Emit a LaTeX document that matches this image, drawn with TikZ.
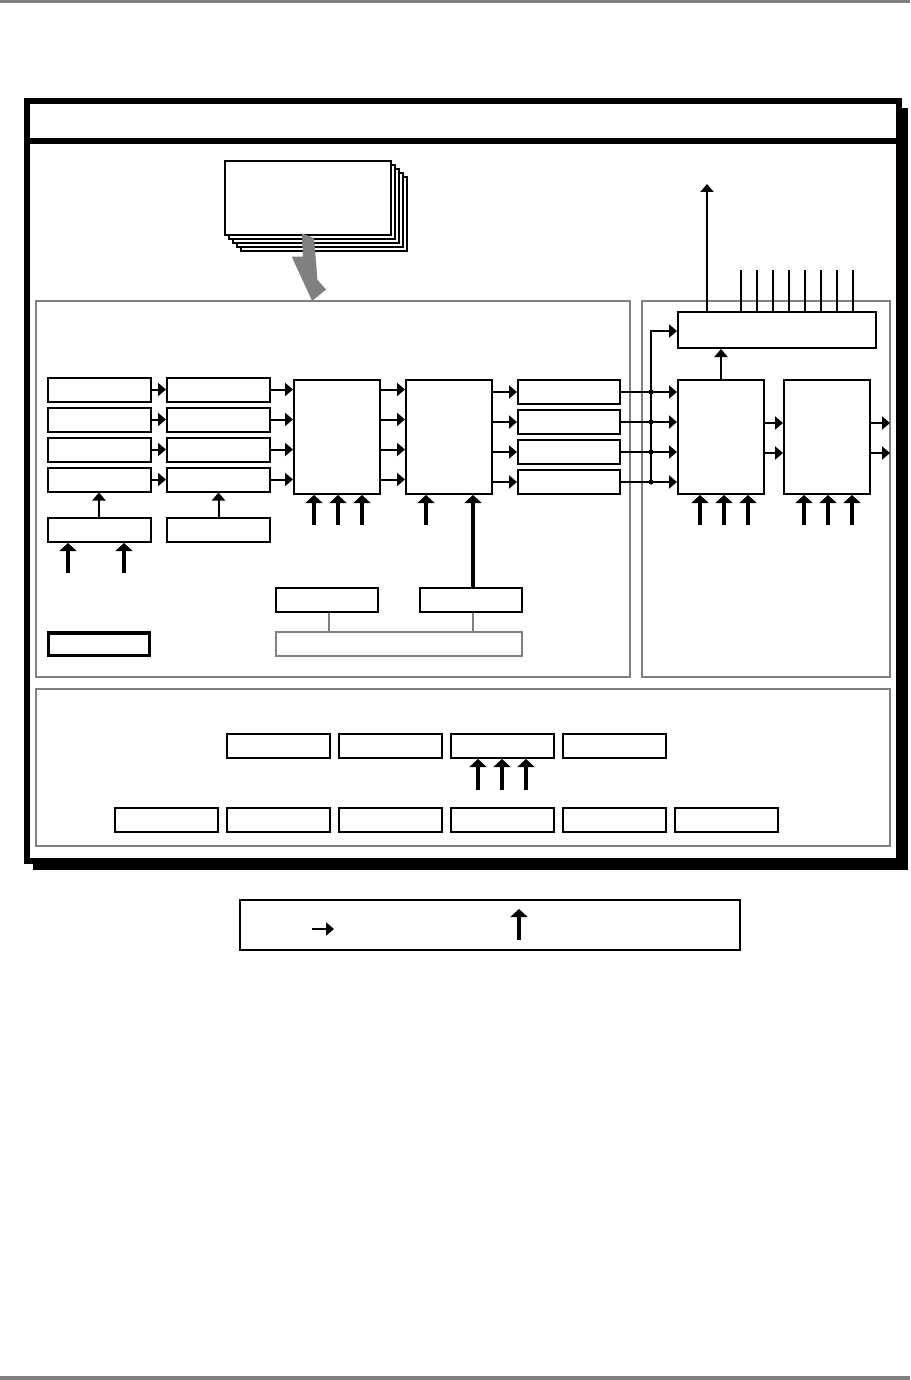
\documentclass[tikz,border=0pt]{standalone}
\usetikzlibrary{arrows.meta}
\definecolor{pgray}{RGB}{128,128,128}
\begin{document}
\begin{tikzpicture}[x=1pt,y=-1pt,line cap=butt,
  box/.style={draw, line width=2pt, fill=white, inner sep=0pt, minimum width=103pt, minimum height=24pt},
  tall/.style={box, minimum width=86pt, minimum height=114pt},
  panel/.style={draw=pgray, line width=2pt, inner sep=0pt},
  graybox/.style={draw=pgray, line width=2pt, fill=white, inner sep=0pt},
  doc/.style={draw, line width=2pt, fill=white, inner sep=0pt, minimum width=166pt, minimum height=74pt},
  tarrow/.style={line width=2pt, -{Triangle[length=8pt,width=13pt]}},
  tharrow/.style={line width=4.5pt, -{Triangle[length=8pt,width=17pt]}},
  plain/.style={line width=2pt}]
\useasboundingbox (0,0) rectangle (910,1380);
% page rules
\fill[pgray] (0,0) rectangle (910,3);
\fill[pgray] (0,1376) rectangle (910,1380);
% outer frame with shadow
\fill (33,108) rectangle (908,870);
\draw[line width=6pt, fill=white] (27,101) rectangle (899,861);
\draw[line width=6pt] (27,141) -- (899,141);
% panels
\node[panel, minimum width=594pt, minimum height=376pt] (P1) at (333,489) {};
\node[panel, minimum width=248pt, minimum height=376pt] (P2) at (766,489) {};
\node[panel, minimum width=854pt, minimum height=157pt] (P3) at (463,767.5) {};
% document stack
\foreach \k in {4,3,2,1,0} {
  \node[doc] (doc\k) at (308+4*\k,198+4*\k) {};
}
\fill[pgray] (301.7,233.3) -- (314,238) -- (317.5,280) -- (326,289.5) -- (313.3,300) -- (311.7,300) -- (291.7,256.7) -- (303,256.7) -- cycle;
% columns 1 and 2
\foreach \i in {1,2,3,4} {
  \node[box] (a\i) at (99,389.5+30*\i-30) {};
  \node[box] (b\i) at (218.5,389.5+30*\i-30) {};
  \node[box, minimum width=102pt] (e\i) at (569,392+30*\i-30) {};
}
\node[box] (a5) at (99,530) {};
\node[box] (b5) at (218.5,530) {};
\node[tall] (A) at (337,437) {};
\node[tall] (B) at (449,437) {};
\node[tall] (C) at (721,437) {};
\node[tall] (D) at (827,437) {};
\node[box, minimum width=198pt, minimum height=36pt] (T) at (777,330) {};
\node[box, minimum width=102pt] (L1) at (327,600) {};
\node[box, minimum width=102pt] (L2) at (471,600) {};
\node[graybox, minimum width=246pt, minimum height=24pt] (G) at (399,644) {};
\node[draw, line width=3.5pt, fill=white, inner sep=0pt, minimum width=101pt, minimum height=22.5pt] (K) at (99,644) {};
% bottom panel boxes
\foreach \i in {1,2,3,4} {
  \node[box] (r\i) at (278.5+112*\i-112,746) {};
}
\foreach \i in {1,...,6} {
  \node[box] (s\i) at (166.5+112*\i-112,820) {};
}
% legend
\node[box, minimum width=500pt, minimum height=50pt] (leg) at (490,925) {};
% connectors left panel
\foreach \i in {1,2,3,4} {
  \draw[tarrow] (a\i.east) -- (b\i.west);
  \draw[tarrow] (b\i.east) -- (b\i.east -| A.west);
  \draw[tarrow] (A.east |- b\i) -- (B.west |- b\i);
  \draw[tarrow] (B.east |- e\i) -- (e\i.west);
}
\draw[tarrow] (a5.north) -- (a4.south);
\draw[tarrow] (b5.north) -- (b4.south);
\foreach \x [count=\i] in {68,124} {
  \coordinate (ua\i) at (\x,573);
  \draw[tharrow] (ua\i) -- (ua\i |- a5.south);
}
\foreach \x [count=\i] in {314,338,362} {
  \coordinate (uA\i) at (\x,525);
  \draw[tharrow] (uA\i) -- (uA\i |- A.south);
}
\coordinate (uB1) at (426,525);
\draw[tharrow] (uB1) -- (uB1 |- B.south);
\coordinate (l2top) at ([xshift=2pt]L2.north);
\draw[line width=4pt, -{Triangle[length=8pt,width=17pt]}] (l2top) -- (l2top |- B.south);
\coordinate (l1bot) at ([xshift=2pt]L1.south);
\coordinate (l2bot) at ([xshift=2pt]L2.south);
\draw[pgray, line width=2pt] (l1bot) -- (l1bot |- G.north);
\draw[pgray, line width=2pt] (l2bot) -- (l2bot |- G.north);
% bus to right panel
\coordinate (bx) at (651,331);
\foreach \i in {1,2,3,4} {
  \draw[tarrow] (e\i.east) -- (e\i.east -| C.west);
  \fill (e\i.east -| bx) circle (2.6pt);
}
\draw[tarrow] (e4.east -| bx) -- (bx) -- (bx -| T.west);
\draw[tarrow] (C.north) -- (C.north |- T.south);
\coordinate (o1) at (890,423);
\coordinate (o2) at (890,453);
\draw[tarrow] (C.east |- o1) -- (D.west |- o1);
\draw[tarrow] (C.east |- o2) -- (D.west |- o2);
\draw[tarrow] (D.east |- o1) -- (o1);
\draw[tarrow] (D.east |- o2) -- (o2);
\foreach \x [count=\i] in {700,724,748} {
  \coordinate (uC\i) at (\x,525);
  \draw[tharrow] (uC\i) -- (uC\i |- C.south);
}
\foreach \x [count=\i] in {804,828,852} {
  \coordinate (uD\i) at (\x,525);
  \draw[tharrow] (uD\i) -- (uD\i |- D.south);
}
\coordinate (up) at (707,184);
\draw[tarrow] (up |- T.north) -- (up);
\foreach \x in {741,757,773,789,805,821,837,853} {
  \coordinate (w\x) at (\x,270);
  \draw[plain] (w\x) -- (w\x |- T.north);
}
% bottom panel arrows
\foreach \x [count=\i] in {478,502,526} {
  \coordinate (ur\i) at (\x,790);
  \draw[tharrow] (ur\i) -- (ur\i |- r3.south);
}
% legend symbols
\coordinate (lg1) at (312,929);
\coordinate (lg2) at (334,929);
\draw[tarrow] (lg1) -- (lg2);
\coordinate (lg3) at (519,940);
\coordinate (lg4) at (519,909);
\draw[tharrow] (lg3) -- (lg4);
\end{tikzpicture}
\end{document}
